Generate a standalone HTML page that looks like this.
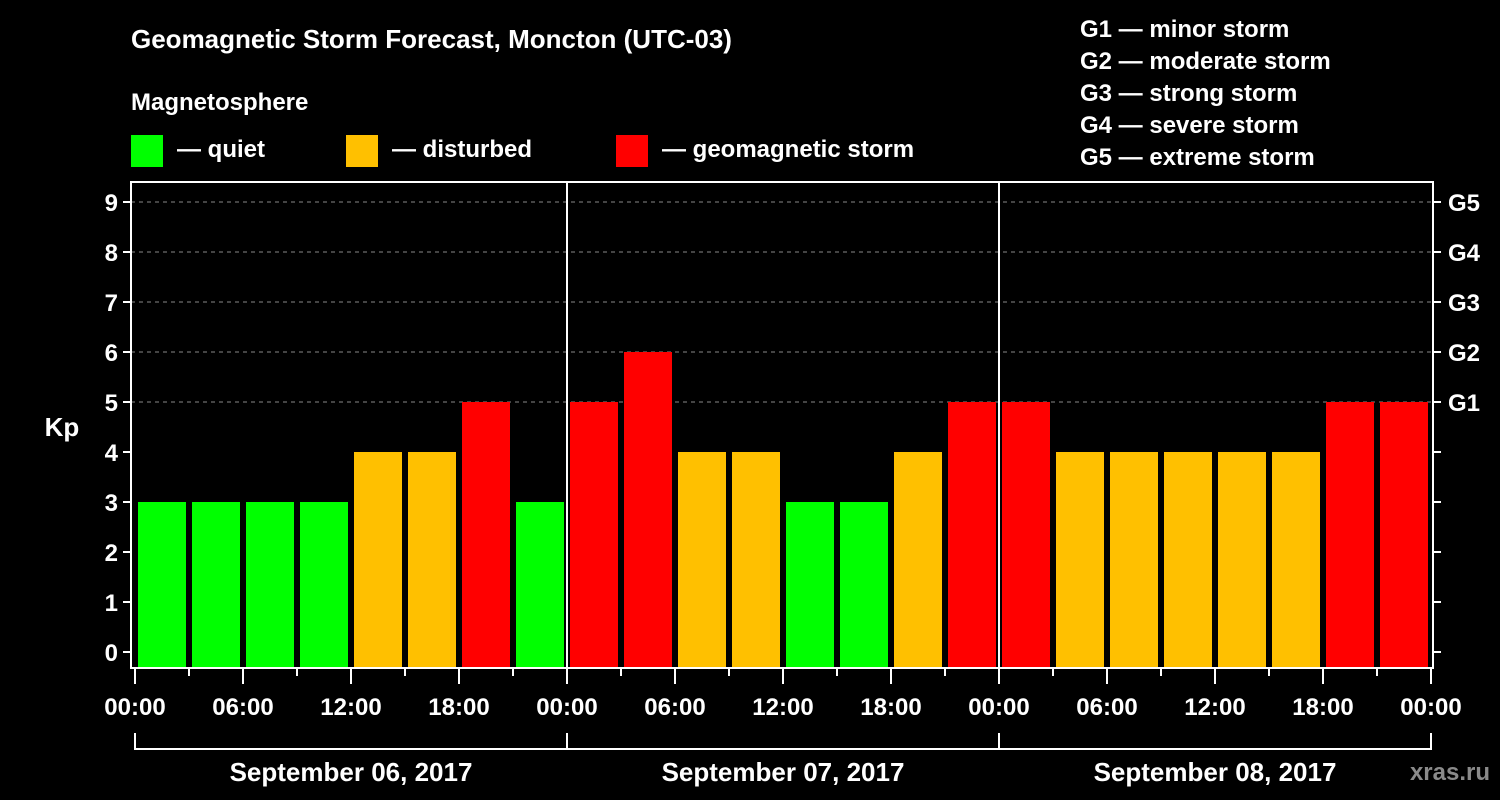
<!DOCTYPE html>
<html><head><meta charset="utf-8"><style>
html,body{margin:0;padding:0;background:#000;}
svg{display:block;font-family:"Liberation Sans",Arial,sans-serif;font-weight:bold;fill:#fff;}
</style></head><body>
<svg id="chart" width="1500" height="800" viewBox="0 0 1500 800">
<rect width="1500" height="800" fill="#000"/>
<text x="131" y="48" font-size="26">Geomagnetic Storm Forecast, Moncton (UTC-03)</text>
<text x="131" y="110" font-size="24">Magnetosphere</text>
<g><rect x="131" y="135" width="32" height="32" fill="#00ff00"/><text x="177" y="157" font-size="24">— quiet</text></g>
<g><rect x="346" y="135" width="32" height="32" fill="#ffc000"/><text x="392" y="157" font-size="24">— disturbed</text></g>
<g><rect x="616" y="135" width="32" height="32" fill="#ff0000"/><text x="662" y="157" font-size="24">— geomagnetic storm</text></g>
<g font-size="24">
<text x="1080" y="37">G1 — minor storm</text>
<text x="1080" y="69">G2 — moderate storm</text>
<text x="1080" y="101">G3 — strong storm</text>
<text x="1080" y="133">G4 — severe storm</text>
<text x="1080" y="165">G5 — extreme storm</text>
</g>
<text x="62" y="436" font-size="26" text-anchor="middle">Kp</text>
<g id="grid"></g>
<g id="bars"></g>
<g id="axes"></g>
<text x="1490" y="780" font-size="24" text-anchor="end" fill="#888" style="fill:#8a8a8a">xras.ru</text>
</svg>
<script>
const days = ["September 06, 2017","September 07, 2017","September 08, 2017"];
const kpValues = [3,3,3,3,4,4,5,3, 5,6,4,4,3,3,4,5, 5,4,4,4,4,4,5,5];
const yTicks = [0,1,2,3,4,5,6,7,8,9];
const gLabels = ["G1","G2","G3","G4","G5"];
const xTickLabels = ["00:00","06:00","12:00","18:00"];

const NS="http://www.w3.org/2000/svg";
const X0=135, DAYW=432, SLOT=DAYW/8;
const L=131, R=1433, T=182, B=668;
function yScale(v){return 652-v*50;}
function xScale(i){return X0+i*SLOT;}
function mk(tag,attrs,parent){const e=document.createElementNS(NS,tag);for(const k in attrs)e.setAttribute(k,attrs[k]);parent.appendChild(e);return e;}
const grid=document.getElementById('grid'),bars=document.getElementById('bars'),axes=document.getElementById('axes');

yTicks.forEach(v=>{
  if(v>=5){const g=mk('line',{x1:L,x2:R,y1:yScale(v),y2:yScale(v),stroke:'#888','stroke-dasharray':'4 4','stroke-width':1},grid);
  
  }
});
kpValues.forEach((v,i)=>{
  const col=v>=5?'#ff0000':(v>=4?'#ffc000':'#00ff00');
  const r=mk('rect',{x:xScale(i)+3,y:yScale(v),width:SLOT-6,height:B-1-yScale(v),fill:col},bars);
  
  
});
// frame
const fr=mk('rect',{x:L,y:T,width:R-L,height:B-T,fill:'none',stroke:'#fff','stroke-width':2},axes);


for(let d=1;d<days.length;d++){
  const s=mk('line',{x1:X0+d*DAYW,x2:X0+d*DAYW,y1:T,y2:B,stroke:'#fff','stroke-width':2},axes);
  
  
}
yTicks.forEach(v=>{
  const y=yScale(v);
  mk('line',{x1:L-8,x2:L,y1:y,y2:y,stroke:'#fff','stroke-width':2},axes);
  mk('line',{x1:R,x2:R+8,y1:y,y2:y,stroke:'#fff','stroke-width':2},axes);
  const t=mk('text',{x:L-13,y:y+9,'font-size':24,'text-anchor':'end'},axes);
  t.textContent=v;
  
  
});
gLabels.forEach((g,i)=>{
  const t=mk('text',{x:R+15,y:yScale(5+i)+9,'font-size':24},axes);
  t.textContent=g;
  
  
});
for(let i=0;i<=kpValues.length;i++){
  const x=xScale(i), major=i%2===0;
  mk('line',{x1:x,x2:x,y1:B,y2:B+(major?16:8),stroke:'#fff','stroke-width':2},axes);
  if(major){
    const t=mk('text',{x:x,y:B+47,'font-size':24,'text-anchor':'middle'},axes);
    t.textContent=xTickLabels[(i/2)%4];
    
    
  }
}
mk('line',{x1:X0,x2:X0+days.length*DAYW,y1:749,y2:749,stroke:'#fff','stroke-width':2},axes);
for(let d=0;d<=days.length;d++){
  mk('line',{x1:X0+d*DAYW,x2:X0+d*DAYW,y1:733,y2:750,stroke:'#fff','stroke-width':2},axes);
}
days.forEach((d,i)=>{
  const t=mk('text',{x:X0+i*DAYW+DAYW/2,y:781,'font-size':26,'text-anchor':'middle'},axes);
  t.textContent=d;
  
  
});
</script>
</body></html>
